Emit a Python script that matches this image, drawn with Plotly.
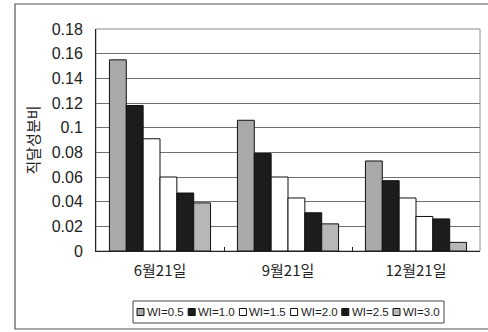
import plotly.graph_objects as go

# Direct-component ratio by date and window index (WI)
dates = ["6월21일", "9월21일", "12월21일"]
series_names = ["WI=0.5", "WI=1.0", "WI=1.5", "WI=2.0", "WI=2.5", "WI=3.0"]
wi_05 = [0.155, 0.106, 0.073]
wi_10 = [0.118, 0.079, 0.057]
wi_15 = [0.091, 0.060, 0.043]
wi_20 = [0.060, 0.043, 0.028]
wi_25 = [0.047, 0.031, 0.026]
wi_30 = [0.039, 0.022, 0.007]
y_ticks = [0, 0.02, 0.04, 0.06, 0.08, 0.1, 0.12, 0.14, 0.16, 0.18]
y_tick_text = ["0", "0.02", "0.04", "0.06", "0.08", "0.1", "0.12", "0.14", "0.16", "0.18"]

series_values = [wi_05, wi_10, wi_15, wi_20, wi_25, wi_30]
fills = ["#a9a9a9", "#1c1c1c", "#ffffff", "#ffffff", "#1c1c1c", "#b7b7b7"]

W, H = 488, 332
L, R, T, B = 96, 8, 29, 81
pw, ph = W - L - R, H - T - B


def px(x):
    return (x - L) / pw


def py(y):
    return (H - B - y) / ph


fig = go.Figure()
for name, vals, col in zip(series_names, series_values, fills):
    fig.add_trace(go.Bar(
        x=dates, y=vals, name=name,
        marker=dict(color=col, line=dict(color="#111111", width=1)),
        showlegend=False,
    ))

shapes = [
    # outer frame
    dict(type="rect", xref="paper", yref="paper",
         x0=px(15), x1=px(492), y0=py(329), y1=py(4),
         line=dict(color="#555555", width=1.2)),
    # plot area border (top/right)
    dict(type="rect", xref="paper", yref="paper", x0=0, x1=1, y0=0, y1=1,
         line=dict(color="#8a8a8a", width=1), layer="below"),
    # legend box
    dict(type="rect", xref="paper", yref="paper",
         x0=px(133), x1=px(444), y0=py(323), y1=py(301),
         line=dict(color="#444444", width=1)),
]
annotations = []
for i, (name, col) in enumerate(zip(series_names, fills)):
    x0 = 137 + i * 51.2
    shapes.append(dict(type="rect", xref="paper", yref="paper",
                       x0=px(x0), x1=px(x0 + 7), y0=py(315.5), y1=py(308.5),
                       fillcolor=col, line=dict(color="#111111", width=1)))
    annotations.append(dict(xref="paper", yref="paper", x=px(x0 + 8), y=py(312),
                            text=name, showarrow=False, xanchor="left", yanchor="middle",
                            font=dict(size=11.5, color="#222222",
                                      family="Liberation Sans, Arial, sans-serif")))

fig.update_layout(
    width=W, height=H,
    margin=dict(l=L, r=R, t=T, b=B),
    paper_bgcolor="white", plot_bgcolor="white",
    barmode="group", bargap=0.21, bargroupgap=0,
    font=dict(family="Liberation Sans, Noto Sans CJK KR, sans-serif", color="#222222"),
    shapes=shapes, annotations=annotations,
    xaxis=dict(
        showline=True, linecolor="#222222", linewidth=1,
        ticks="inside", tickson="boundaries", ticklen=4, tickcolor="#222222",
        tickfont=dict(size=15, family="Noto Sans CJK KR, Liberation Sans, sans-serif"),
        ticklabelstandoff=6,
        showgrid=False,
    ),
    yaxis=dict(
        range=[0, 0.18], tickvals=y_ticks, ticktext=y_tick_text,
        tickfont=dict(size=16), ticks="", ticklabelstandoff=9,
        showline=True, linecolor="#222222", linewidth=1,
        showgrid=True, gridcolor="#6f6f6f", gridwidth=1, zeroline=False,
        title=dict(text="직달성분비", standoff=8,
                   font=dict(size=15, family="Noto Sans CJK KR, sans-serif")),
    ),
)

fig.write_html("out.html")
